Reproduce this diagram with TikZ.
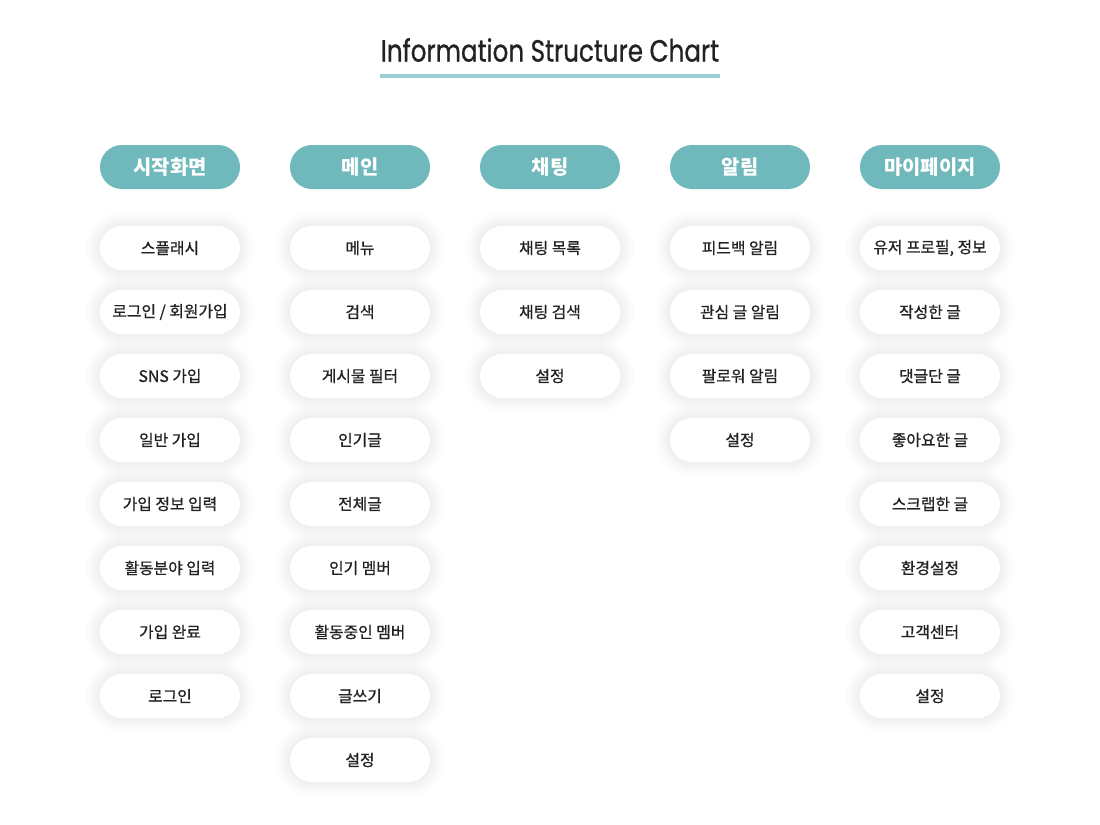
\documentclass[tikz,border=0pt]{standalone}
\usepackage{fontspec}
\setmainfont{Noto Sans CJK KR}
\newfontfamily\itemfont{Noto Sans CJK KR}[FakeBold=0.8]
\newfontfamily\titlefont{Poppins}[FakeStretch=0.8, FakeBold=0.8]

\definecolor{teal}{HTML}{6FB8BB}
\definecolor{lineteal}{HTML}{9BD0D2}
\definecolor{ink}{HTML}{222222}

\tikzset{
  header/.style={fill=teal, text=white, rounded corners=0.44cm,
    minimum width=2.8cm, minimum height=0.88cm, font=\fontsize{11.3}{13}\selectfont\bfseries},
  halo/.style={preaction={draw=black, draw opacity=0.012, line width=#1}},
  item/.style={fill=white, text=ink, rounded corners=0.44cm,
    minimum width=2.8cm, minimum height=0.88cm, font=\itemfont\fontsize{9}{11}\selectfont,
    halo=16pt, halo=12pt, halo=9pt, halo=6pt, halo=3pt}
}

\begin{document}
\begin{tikzpicture}

  \useasboundingbox[fill=white] (0,0) rectangle (22,-16.48);

  % title
  \node[text=ink, font=\titlefont\fontsize{17.5}{20}\selectfont] (title) at (11,-1.0) {Information Structure Chart};
  \coordinate (ul) at (7.6,-1.52);
  \coordinate (ur) at (14.4,-1.52);
  \draw[lineteal, line width=0.08cm] (ul) -- (ur);

  % columns
  \foreach \head [count=\i] in {시작화면,메인,채팅,알림,마이페이지}{
    \node[header] (c\i) at ({3.4+3.8*(\i-1)},-3.34) {\head};
  }

  \foreach \t [count=\j] in {스플래시,로그인 / 회원가입,SNS 가입,일반 가입,가입 정보 입력,활동분야 입력,가입 완료,로그인}{
    \node[item] (c1-\j) at (3.4,{-4.96-1.28*(\j-1)}) {\t};
  }

  \foreach \t [count=\j] in {메뉴,검색,게시물 필터,인기글,전체글,인기 멤버,활동중인 멤버,글쓰기,설정}{
    \node[item] (c2-\j) at (7.2,{-4.96-1.28*(\j-1)}) {\t};
  }

  \foreach \t [count=\j] in {채팅 목록,채팅 검색,설정}{
    \node[item] (c3-\j) at (11.0,{-4.96-1.28*(\j-1)}) {\t};
  }

  \foreach \t [count=\j] in {피드백 알림,관심 글 알림,팔로워 알림,설정}{
    \node[item] (c4-\j) at (14.8,{-4.96-1.28*(\j-1)}) {\t};
  }

  \foreach \t [count=\j] in {{유저 프로필, 정보},작성한 글,댓글단 글,좋아요한 글,스크랩한 글,환경설정,고객센터,설정}{
    \node[item] (c5-\j) at (18.6,{-4.96-1.28*(\j-1)}) {\t};
  }

\end{tikzpicture}
\end{document}
